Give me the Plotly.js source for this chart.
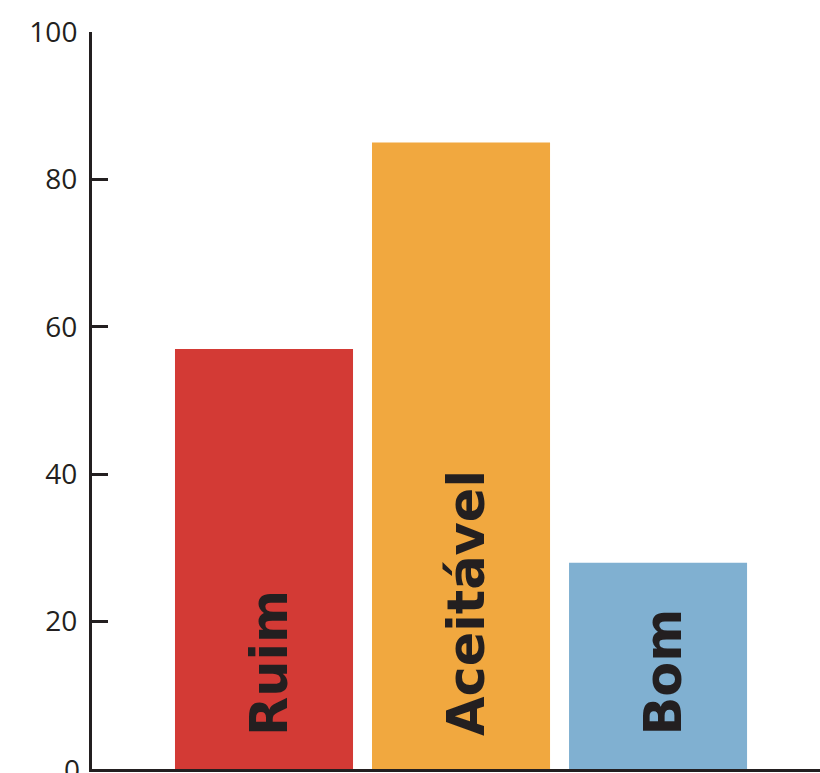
<!DOCTYPE html>
<html>
<head>
<meta charset="utf-8">
<script src="https://cdn.plot.ly/plotly-3.0.1.min.js"></script>
<style>html,body{margin:0;padding:0;background:#fff;}#chart{width:820px;height:773px;}</style>
</head>
<body>
<div id="chart"></div>
<script>
const categories = ["Ruim", "Aceitável", "Bom"];
const values = [57, 85, 28];
const barColors = ["#d33a35", "#f1a83f", "#80b0d1"];
const yTicks = [0, 20, 40, 60, 80, 100];

const ink = "#231f20";
const tickFont = {family: "Open Sans, sans-serif", size: 28, color: ink};

const trace = {
  type: "bar",
  x: categories,
  y: values,
  marker: {color: barColors, line: {width: 0}},
  hoverinfo: "skip"
};

const annotations = categories.map((c) => ({
  x: c, y: 0, xref: "x", yref: "y",
  text: "<b>" + c + "</b>", showarrow: false, textangle: -90,
  xanchor: "center", yanchor: "bottom", yshift: 31, xshift: 5,
  font: {family: "DejaVu Sans, sans-serif", size: 51, color: ink}
}));
// bottom tick label (Plotly drops it since it overflows the page)
annotations.push({
  x: 0, xref: "paper", y: yTicks[0], yref: "y",
  text: String(yTicks[0]), showarrow: false,
  xanchor: "right", yanchor: "middle", xshift: -10,
  font: tickFont
});

const layout = {
  width: 820, height: 773,
  margin: {l: 92, r: 0, t: 32, b: 4},
  paper_bgcolor: "#fff", plot_bgcolor: "#fff",
  showlegend: false,
  bargap: 0.0964,
  xaxis: {
    type: "category", range: [-0.873, 2.822],
    showticklabels: false, ticks: "", showgrid: false, zeroline: false,
    showline: true, linecolor: ink, linewidth: 3
  },
  yaxis: {
    range: [0, 100], tickvals: yTicks, ticktext: yTicks.map(String),
    ticks: "inside", ticklen: 16, tickwidth: 3, tickcolor: ink,
    showgrid: false, zeroline: false,
    showline: true, linecolor: ink, linewidth: 3,
    tickfont: tickFont,
    ticklabelstandoff: 6
  },
  annotations: annotations
};

Plotly.newPlot("chart", [trace], layout, {displayModeBar: false, staticPlot: true});
</script>
</body>
</html>
